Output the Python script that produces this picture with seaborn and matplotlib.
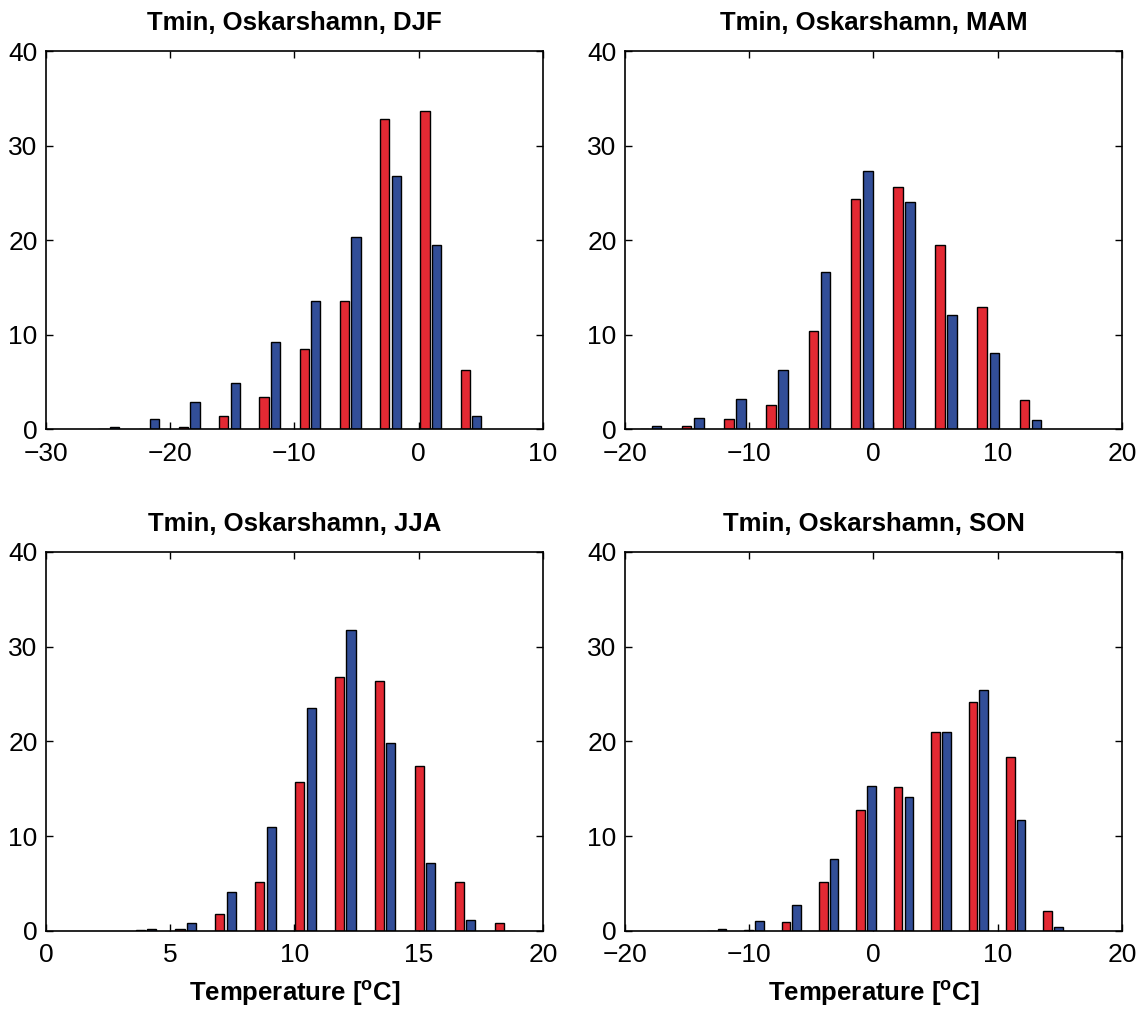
import numpy as np
import pandas as pd
import matplotlib
matplotlib.use("Agg")
import matplotlib.pyplot as plt
import seaborn as sns

# Bin centres (degC) for each season: first centre and bin step
djf_start, djf_step = -24.95, 3.24
mam_start, mam_step = -17.95, 3.40
jja_start, jja_step = 4.02, 1.605
son_start, son_step = -12.63, 3.01

# Relative frequency (%) per bin: observed (red) and modelled (blue)
djf_red = [0.0, 0.05, 0.25, 1.37, 3.42, 8.46, 13.57, 32.8, 33.7, 6.24]
djf_blue = [0.25, 1.09, 2.82, 4.86, 9.24, 13.5, 20.37, 26.75, 19.46, 1.34]

mam_red = [0.05, 0.32, 1.02, 2.50, 10.4, 24.3, 25.6, 19.46, 12.94, 3.10]
mam_blue = [0.35, 1.16, 3.17, 6.20, 16.57, 27.25, 23.97, 12.09, 8.07, 0.95]

jja_red = [0.05, 0.2, 1.80, 5.21, 15.70, 26.76, 26.37, 17.46, 5.21, 0.88]
jja_blue = [0.24, 0.88, 4.08, 11.02, 23.49, 31.76, 19.79, 7.15, 1.20, 0.0]

son_red = [0.0, 0.05, 0.99, 5.18, 12.78, 15.18, 20.99, 24.12, 18.31, 2.15]
son_blue = [0.21, 1.09, 2.71, 7.57, 15.32, 14.15, 20.99, 25.39, 11.76, 0.39]

titles = ["Tmin, Oskarshamn, DJF", "Tmin, Oskarshamn, MAM",
          "Tmin, Oskarshamn, JJA", "Tmin, Oskarshamn, SON"]
xlims = [(-30, 10), (-20, 20), (0, 20), (-20, 20)]
xticks = [[-30, -20, -10, 0, 10], [-20, -10, 0, 10, 20],
          [0, 5, 10, 15, 20], [-20, -10, 0, 10, 20]]
yticks = [0, 10, 20, 30, 40]

seasons = [
    (djf_start, djf_step, djf_red, djf_blue),
    (mam_start, mam_step, mam_red, mam_blue),
    (jja_start, jja_step, jja_red, jja_blue),
    (son_start, son_step, son_red, son_blue),
]

RED = "#E32933"
BLUE = "#324E98"

sns.set_theme(style="ticks")
plt.rcParams["font.family"] = ["Liberation Sans", "DejaVu Sans"]
plt.rcParams["mathtext.fontset"] = "custom"
plt.rcParams["mathtext.rm"] = "Liberation Sans"
plt.rcParams["mathtext.bf"] = "Liberation Sans:bold"
for key in ["text.color", "axes.labelcolor", "xtick.color", "ytick.color",
            "axes.edgecolor"]:
    plt.rcParams[key] = "black"

fig = plt.figure(figsize=(11.44, 10.14), dpi=100)
positions = [
    [0.0402, 0.5769, 0.4344, 0.3728],
    [0.5463, 0.5769, 0.4344, 0.3728],
    [0.0402, 0.0819, 0.4344, 0.3738],
    [0.5463, 0.0819, 0.4344, 0.3738],
]

for i, (start, step, red, blue) in enumerate(seasons):
    ax = fig.add_axes(positions[i])
    n = len(red)
    centres = np.round(start + step * np.arange(n), 4)
    df = pd.DataFrame({
        "temp": np.concatenate([centres, centres]),
        "freq": red + blue,
        "series": ["obs"] * n + ["model"] * n,
    })
    sns.barplot(data=df, x="temp", y="freq", hue="series",
                hue_order=["obs", "model"], palette=[RED, BLUE],
                native_scale=True, width=0.572, gap=0.2, dodge=True,
                saturation=1, edgecolor="black", linewidth=1.0,
                legend=False, errorbar=None, ax=ax)
    ax.set_xlim(*xlims[i])
    ax.set_ylim(0, 40)
    ax.set_xticks(xticks[i])
    ax.set_yticks(yticks)
    ax.tick_params(direction="in", length=5, width=1, labelsize=19,
                   top=True, right=True, colors="black")
    ax.tick_params(axis="x", pad=9)
    ax.tick_params(axis="y", pad=6)
    for sp in ax.spines.values():
        sp.set_visible(True)
        sp.set_linewidth(1.2)
        sp.set_color("black")
    ax.set_title(titles[i], fontsize=18.5, fontweight="bold", pad=15,
                 color="black")
    ax.set_ylabel("")
    if i >= 2:
        ax.set_xlabel(r"Temperature [$^{\mathbf{o}}$C]", fontsize=18.5,
                      fontweight="bold", labelpad=8, color="black")
    else:
        ax.set_xlabel("")

fig.savefig("out.png", dpi=100, facecolor="white")
